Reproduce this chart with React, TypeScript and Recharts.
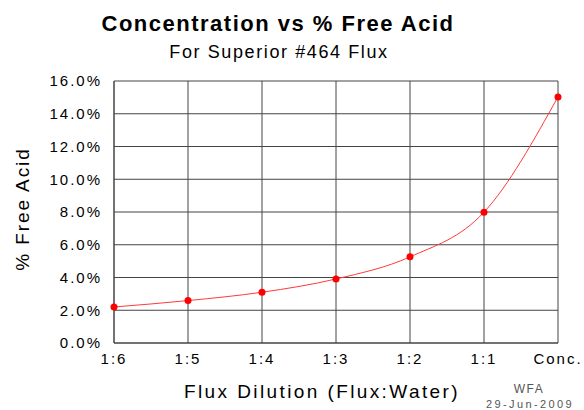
import React from 'react';
import { LineChart, Line, XAxis, YAxis, CartesianGrid, Label } from 'recharts';

const dilutions = ['1:6', '1:5', '1:4', '1:3', '1:2', '1:1', 'Conc.'];
const freeAcid = [2.2, 2.59, 3.1, 3.91, 5.26, 7.99, 15.03];
const yTicks = [0, 2, 4, 6, 8, 10, 12, 14, 16];

const chartData = dilutions.map((d, i) => ({ dilution: d, acid: freeAcid[i] }));

const FONT = '"Liberation Sans", Arial, sans-serif';
const GRID = '#444444';

const tickStyle = { fontFamily: FONT, fontSize: 15, fill: '#000', letterSpacing: 2 };

const XTitle = () => (
  <text x={322} y={398} textAnchor="middle" fontFamily={FONT} fontSize={19} fill="#000" style={{ letterSpacing: 2.4 }}>
    Flux Dilution (Flux:Water)
  </text>
);

const YTitle = () => (
  <text x={29} y={209} transform="rotate(-90 29 209)" textAnchor="middle" fontFamily={FONT} fontSize={19} fill="#000" style={{ letterSpacing: 1.9 }}>
    % Free Acid
  </text>
);

export default function App() {
  return (
    <div style={{ position: 'absolute', left: 0, top: 0, width: 584, height: 410, background: '#fff' }}>
      <LineChart width={584} height={410} data={chartData} margin={{ top: 81, right: 26, left: 0, bottom: 0 }}>
        <CartesianGrid stroke={GRID} strokeWidth={1} />
        <XAxis
          dataKey="dilution"
          height={67}
          stroke={GRID}
          tickLine={false}
          tickSize={0}
          tickMargin={10}
          tick={tickStyle}
          interval={0}
        >
          <Label content={XTitle} />
        </XAxis>
        <YAxis
          width={114}
          domain={[0, 16]}
          ticks={yTicks}
          stroke={GRID}
          tickLine={false}
          tickSize={0}
          tickMargin={12}
          tick={tickStyle}
          tickFormatter={(v: number) => `${v.toFixed(1)}%`}
        >
          <Label content={YTitle} />
        </YAxis>
        <Line
          type="monotone"
          dataKey="acid"
          stroke="#ff3a3a"
          strokeWidth={1}
          dot={{ r: 3.5, fill: '#ff0000', stroke: 'none' }}
          activeDot={false}
          isAnimationActive={false}
        />
      </LineChart>
      <svg width={584} height={410} style={{ position: 'absolute', left: 0, top: 0, pointerEvents: 'none' }}>
        <text x={278} y={31} textAnchor="middle" fontFamily={FONT} fontSize={22} fontWeight="bold" fill="#000" style={{ letterSpacing: 1.5 }}>
          Concentration vs % Free Acid
        </text>
        <text x={279} y={58} textAnchor="middle" fontFamily={FONT} fontSize={18} fill="#000" style={{ letterSpacing: 1.6 }}>
          For Superior #464 Flux
        </text>
        <text x={529} y={393} textAnchor="middle" fontFamily={FONT} fontSize={12} fill="#555" style={{ letterSpacing: 1.5 }}>
          WFA
        </text>
        <text x={530} y={408} textAnchor="middle" fontFamily={FONT} fontSize={11} fill="#555" style={{ letterSpacing: 2.4 }}>
          29-Jun-2009
        </text>
      </svg>
    </div>
  );
}
